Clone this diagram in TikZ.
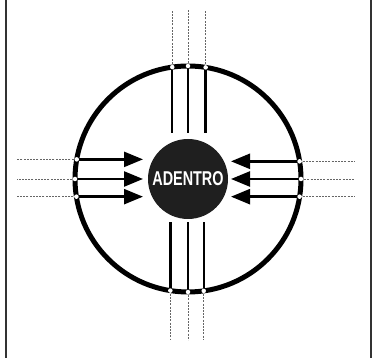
\documentclass[tikz,border=0pt]{standalone}
\usepackage{fontspec}
\setsansfont{Liberation Sans}
\usetikzlibrary{arrows.meta,positioning}
\tikzset{ring/.style={circle, draw, line width=5pt, minimum size=226pt, inner sep=0pt, outer sep=0pt}}
\tikzset{core/.style={circle, fill=black!88, minimum size=80pt, inner sep=0pt, text=white,
 font=\sffamily\bfseries\fontsize{20}{20}\selectfont}}
\tikzset{line/.style={draw, line width=2.4pt}}
\tikzset{into/.style={line, -{Triangle[length=19pt,width=15pt]}}}
\tikzset{feed/.style={draw, black!60, line width=0.8pt, dash pattern=on 2pt off 1.2pt}}
\tikzset{gap/.style={circle, fill=white, inner sep=0pt, minimum size=4.5pt}}

\begin{document}
\begin{tikzpicture}[x=1pt,y=1pt]
\useasboundingbox (0,0) rectangle (376,358);
\draw[line width=1.5pt, black!80] (6,0) -- (6,358);
\draw[line width=1.5pt, black!80] (371,0) -- (371,358);
\node[ring] (ring) at (188,179) {};
\node[core] (adentro) at (188,179) {\scalebox{0.72}[1]{ADENTRO}};
\coordinate (lefttip) at (143,179);
\coordinate (righttip) at (231,179);
\coordinate (leftend) at (17,179);
\coordinate (rightend) at (355,179);
\coordinate (uptop) at (188,225);
\coordinate (downtop) at (188,136);
\coordinate (upend) at (188,348);
\coordinate (downend) at (188,18);
% arrows going in
\foreach \a in {170.8,180,189.2} {
  \path[into] (ring.\a) -- (ring.\a -| lefttip);
  \path[feed] (ring.\a) -- (ring.\a -| leftend);
  \node[gap] at (ring.\a) {};
}
\foreach \a in {9.2,0,-9.2} {
  \path[into] (ring.\a) -- (ring.\a -| righttip);
  \path[feed] (ring.\a) -- (ring.\a -| rightend);
  \node[gap] at (ring.\a) {};
}
% bars above and below
\foreach \a in {98.6,90,81.4} {
  \path[line] (ring.\a) -- (ring.\a |- uptop);
  \path[feed] (ring.\a) -- (ring.\a |- upend);
  \node[gap] at (ring.\a) {};
}
\foreach \a in {261.4,270,278.6} {
  \path[line] (ring.\a) -- (ring.\a |- downtop);
  \path[feed] (ring.\a) -- (ring.\a |- downend);
  \node[gap] at (ring.\a) {};
}
\end{tikzpicture}
\end{document}
